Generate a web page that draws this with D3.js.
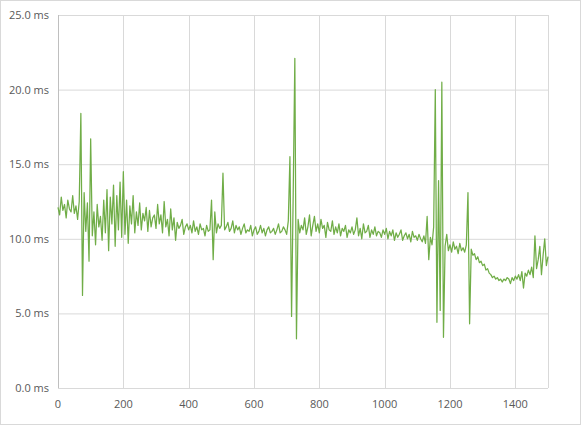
<!DOCTYPE html><html><head><meta charset="utf-8">
<script src="https://cdn.jsdelivr.net/npm/d3@7"></script>
<style>body{margin:0;background:#fff}text{font-family:"Segoe UI","Open Sans",sans-serif;font-size:11px;fill:#595959}</style>
</head><body><svg id="c" width="581" height="425"></svg><script>
const step = 5;
const values = [
12.1,11.6,12.8,11.9,12.3,11.4,12.6,12.0,11.8,12.9,11.7,12.2,11.3,12.5,18.4,6.2,13.1,10.5,12.4,8.5,
16.7,10.2,11.8,9.6,12.3,10.8,11.5,9.9,12.6,10.4,13.3,9.2,12.8,11.0,13.6,9.5,12.9,10.6,13.8,10.1,
14.5,10.3,12.6,9.7,12.2,11.0,12.9,10.4,11.8,10.9,12.4,10.6,11.7,11.2,12.1,10.5,11.9,10.8,11.4,11.6,
10.7,12.3,11.0,11.6,10.4,12.5,10.8,11.3,10.2,12.0,10.6,11.4,9.9,11.1,10.7,10.9,11.3,10.3,10.8,11.0,
10.6,10.9,10.4,11.2,10.5,10.8,10.3,11.0,10.6,10.7,10.2,10.9,10.5,10.6,12.6,8.6,11.8,10.4,11.0,10.7,
10.9,14.4,10.6,10.8,11.1,10.5,10.7,11.2,10.4,10.9,10.6,10.8,10.3,10.7,11.0,10.4,10.6,10.5,10.9,10.2,
10.6,10.8,10.3,10.5,10.9,10.4,10.7,10.2,10.6,10.8,10.4,10.5,10.7,10.3,10.6,11.0,10.4,10.5,10.8,10.6,
10.3,11.2,15.5,4.8,13.0,22.1,3.3,11.3,10.4,10.9,10.6,11.4,10.3,10.8,11.6,10.2,10.9,11.5,10.5,11.0,
10.4,11.3,10.7,10.9,10.1,11.1,10.6,10.5,11.2,10.3,10.8,10.4,11.0,10.2,10.7,10.5,10.9,10.1,10.6,10.4,
10.8,10.3,10.6,11.4,10.2,10.7,10.0,11.0,10.4,10.5,10.9,10.1,10.6,10.3,10.8,10.2,10.5,10.4,10.1,10.6,
10.3,10.7,10.0,10.5,10.2,10.6,9.9,10.4,10.1,10.3,10.6,9.9,10.2,10.4,10.0,10.3,9.8,10.5,10.1,10.2,
9.9,10.3,10.0,9.8,10.2,9.7,11.5,8.6,10.1,9.6,10.8,20.0,4.4,13.9,5.2,20.5,3.4,9.5,10.3,9.2,
9.6,9.1,9.8,9.3,9.5,9.0,9.7,9.2,9.4,9.1,9.6,13.1,4.3,9.3,8.9,9.0,8.6,8.8,8.4,8.5,
8.2,8.3,7.9,8.0,7.7,7.6,7.4,7.5,7.3,7.4,7.2,7.3,7.1,7.3,7.2,7.4,7.3,7.0,7.4,7.2,
7.5,7.3,7.6,7.2,7.8,6.7,7.7,7.5,7.9,7.6,8.1,7.4,10.2,8.0,8.6,9.5,7.6,8.9,10.0,8.2,8.8];
const xTicks = [0,200,400,600,800,1000,1200,1400];
const yTicks = [0,5,10,15,20,25];

const svg = d3.select("#c");
svg.append("rect").attr("x",0.5).attr("y",0.5).attr("width",580).attr("height",424).attr("fill","#fff").attr("stroke","#d9d9d9");
const x = d3.scaleLinear().domain([0,1500]).range([58,548]);
const y = d3.scaleLinear().domain([0,25]).range([388,15]);
const g = svg.append("g");
g.selectAll(".gy").data(yTicks).join("line").attr("x1",58).attr("x2",548)
 .attr("y1",d=>y(d)+0.5).attr("y2",d=>y(d)+0.5).attr("stroke","#d9d9d9");
g.selectAll(".gx").data(xTicks.concat([1500])).join("line").attr("y1",15).attr("y2",388)
 .attr("x1",d=>Math.round(x(d))+0.5).attr("x2",d=>Math.round(x(d))+0.5).attr("stroke","#d9d9d9");
g.append("line").attr("x1",58.5).attr("x2",58.5).attr("y1",15).attr("y2",388).attr("stroke","#bfbfbf");
g.selectAll(".yl").data(yTicks).join("text").attr("x",49).attr("y",d=>y(d)+4).attr("text-anchor","end").text(d=>d.toFixed(1)+" ms");
g.selectAll(".xl").data(xTicks).join("text").attr("x",d=>x(d)).attr("y",408).attr("text-anchor","middle").text(d=>d);
const line = d3.line().x((d,i)=>x(i*step)).y(d=>y(d));
svg.append("path").datum(values).attr("d",line).attr("fill","none").attr("stroke","#70ad47").attr("stroke-width",1.25).attr("stroke-linejoin","round");
</script></body></html>
